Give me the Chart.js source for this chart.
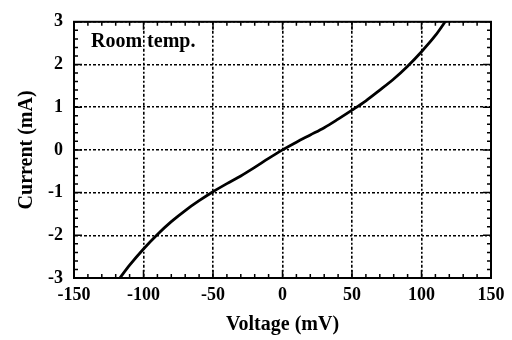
<!DOCTYPE html>
<html>
<head>
<meta charset="utf-8">
<script src="https://cdn.jsdelivr.net/npm/chart.js@4/dist/chart.umd.min.js"></script>
<style>
  html, body { margin: 0; padding: 0; background: #fff; }
  #wrap { width: 512px; height: 340px; }
</style>
</head>
<body>
<div id="wrap"><canvas id="grafico" width="512" height="340"></canvas></div>
<script>
// datos
const voltaje = [-117, -110, -100, -90, -80, -70, -60, -50, -40, -30, -20, -10, 0,
                 10, 20, 30, 40, 50, 60, 70, 80, 90, 100, 110, 117];
const corriente = [-3.0, -2.70, -2.32, -1.98, -1.68, -1.42, -1.19, -0.98, -0.79, -0.61, -0.41, -0.2, 0,
                   0.18, 0.35, 0.52, 0.72, 0.93, 1.15, 1.40, 1.66, 1.96, 2.30, 2.68, 3.0];
const ticksX = [-150, -100, -50, 0, 50, 100, 150];
const ticksY = [-3, -2, -1, 0, 1, 2, 3];
const etiqueta = 'Room temp.';

const fuente = '"Liberation Serif", "DejaVu Serif", serif';

// marco y marcas hacia dentro en los cuatro lados
const marcasInternas = {
  id: 'marcasInternas',
  afterDraw(chart) {
    const { ctx, chartArea: a, scales: { x, y } } = chart;
    ctx.save();
    ctx.strokeStyle = '#000';
    ctx.setLineDash([]);
    ctx.lineWidth = 2;
    ctx.strokeRect(a.left, a.top, a.right - a.left, a.bottom - a.top);
    ctx.lineWidth = 1.5;
    for (let v = -150; v <= 150; v += 10) {
      const px = x.getPixelForValue(v);
      const len = v % 50 === 0 ? 8 : 4;
      ctx.beginPath();
      ctx.moveTo(px, a.bottom); ctx.lineTo(px, a.bottom - len);
      ctx.moveTo(px, a.top); ctx.lineTo(px, a.top + len);
      ctx.stroke();
    }
    for (let i = -15; i <= 15; i++) {
      const v = i / 5;
      const py = y.getPixelForValue(v);
      const len = i % 5 === 0 ? 8 : 4;
      ctx.beginPath();
      ctx.moveTo(a.left, py); ctx.lineTo(a.left + len, py);
      ctx.moveTo(a.right, py); ctx.lineTo(a.right - len, py);
      ctx.stroke();
    }
    ctx.font = 'bold 20px ' + fuente;
    ctx.fillStyle = '#000';
    ctx.textBaseline = 'middle';
    ctx.fillText(etiqueta, a.left + 17, a.top + 20);
    ctx.restore();
  }
};

const ctx = document.getElementById('grafico').getContext('2d');
new Chart(ctx, {
  type: 'scatter',
  data: {
    datasets: [{
      data: voltaje.map((v, i) => ({ x: v, y: corriente[i] })),
      showLine: true,
      borderColor: '#000',
      borderWidth: 2.8,
      pointRadius: 0,
      cubicInterpolationMode: 'monotone'
    }]
  },
  options: {
    responsive: false,
    animation: false,
    events: [],
    layout: { padding: { left: 0, right: 21, top: 14, bottom: 0 } },
    plugins: { legend: { display: false }, tooltip: { enabled: false } },
    scales: {
      x: {
        type: 'linear', min: -150, max: 150,
        afterBuildTicks: s => { s.ticks = ticksX.map(v => ({ value: v })); },
        afterFit: s => { s.height = 62; },
        border: { display: true, color: '#000', width: 2, dash: [3, 2, 2, 2] },
        grid: { color: '#000', lineWidth: 1.6, drawTicks: false },
        ticks: { color: '#000', padding: 7, maxRotation: 0, font: { family: fuente, size: 18, weight: 'bold' } },
        title: { display: true, text: 'Voltage (mV)', color: '#000', padding: { top: 6, bottom: 3 },
                 font: { family: fuente, size: 20, weight: 'bold' } }
      },
      y: {
        type: 'linear', min: -3, max: 3,
        afterBuildTicks: s => { s.ticks = ticksY.map(v => ({ value: v })); },
        afterFit: s => { s.width = 74; },
        border: { display: true, color: '#000', width: 2, dash: [3, 2, 2, 2] },
        grid: { color: '#000', lineWidth: 1.6, drawTicks: false },
        ticks: { color: '#000', padding: 11, font: { family: fuente, size: 18, weight: 'bold' } },
        title: { display: true, text: 'Current (mA)', color: '#000', padding: { top: 15, bottom: 4 },
                 font: { family: fuente, size: 20, weight: 'bold' } }
      }
    }
  },
  plugins: [marcasInternas]
});
</script>
</body>
</html>
